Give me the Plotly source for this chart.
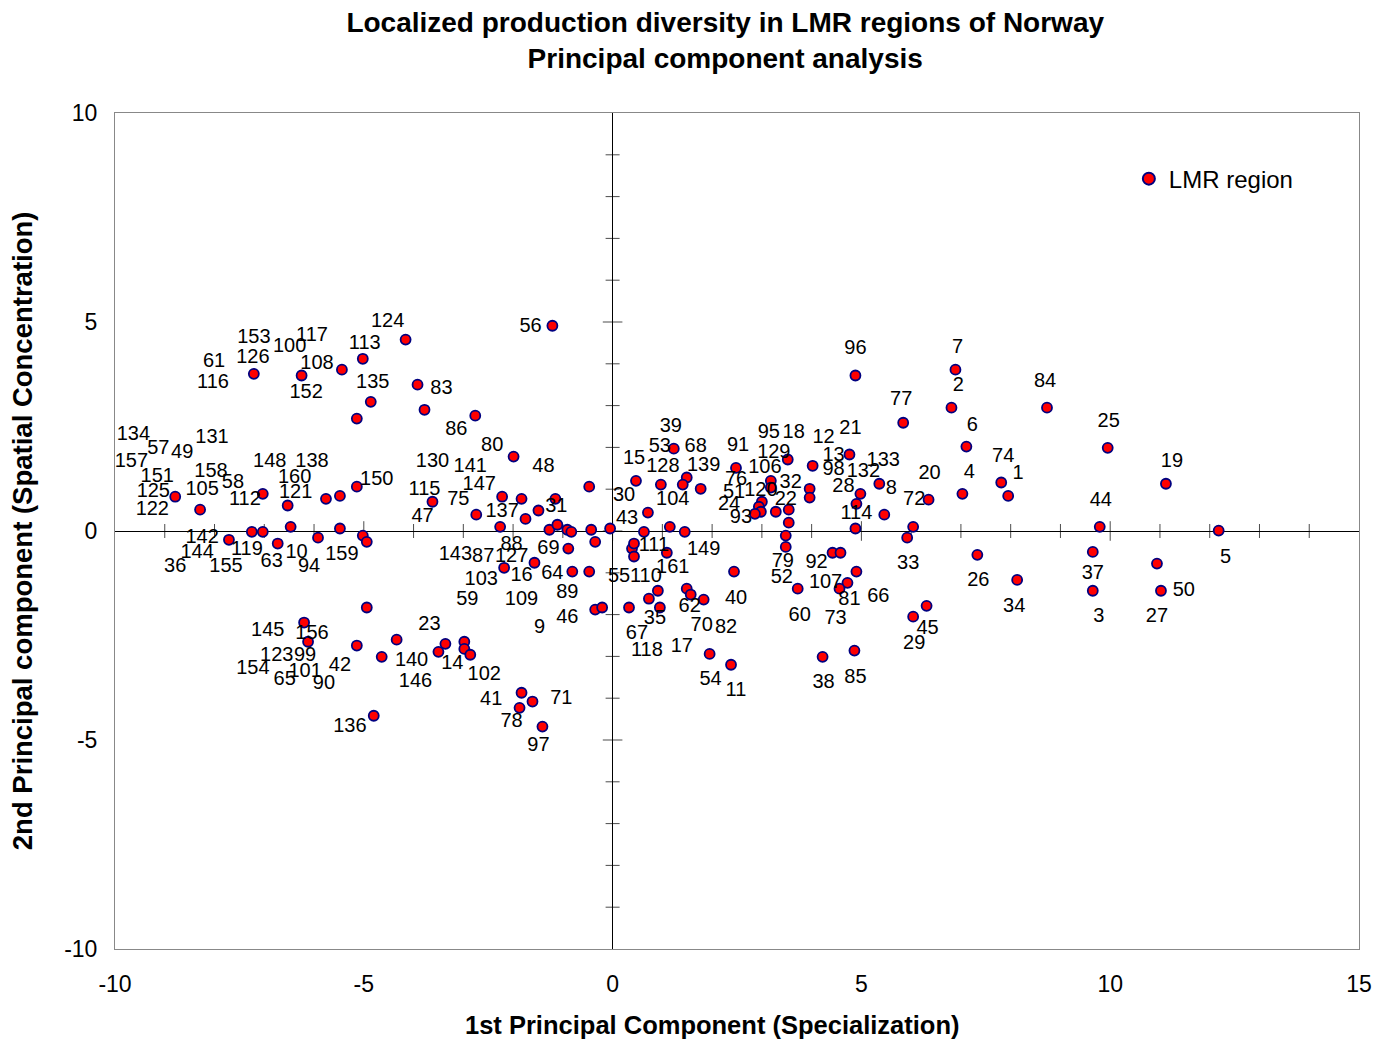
import plotly.graph_objects as go

# Principal component scores of the LMR regions (PC1 = specialization, PC2 = spatial concentration)
pc1 = [
    -7.21, -6.25, -4.16, -5.02, -5.44, -3.92, -4.86, -5.14, -3.78, -2.76, -1.99, -1.21,
    -8.79, -8.29, -7.03, -6.53, -5.76, -5.48, -5.14, -7.71, -7.25, -7.03, -6.73, -6.47,
    -5.92, -5.48, -5.02, -4.94, -4.94, -6.20, -6.12, -5.14, -4.64, -4.34, -3.50, -3.36,
    -2.98, -2.98, -2.86, -4.80, -1.83, -1.61, -1.87, -1.41, -0.47, -3.62, -2.22, -1.83,
    -1.15, -1.49, -1.75, -2.74, -2.26, -1.27, -1.11, -0.91, -0.83, -0.43, -0.05, -0.35,
    -0.89, -1.57, -2.18, -0.81, -0.47, -0.35, -0.21, 0.47, 1.23, 0.97, 1.49, 1.41,
    1.77, 0.71, 0.63, 1.15, 1.45, 2.48, 3.52, 3.18, 3.18, 3.00, 2.94, 2.98,
    2.86, 3.28, 3.54, 3.54, 3.48, 3.48, 0.39, 0.43, 0.43, 1.09, 2.44, 3.72,
    0.91, 0.73, 1.49, 1.57, 1.83, 0.95, 0.33, 1.95, 2.38, 4.02, 3.96, 3.96,
    4.88, 6.89, 6.81, 5.84, 7.11, 4.76, 5.36, 4.98, 4.90, 5.46, 6.35, 7.03,
    4.88, 6.04, 5.92, 7.81, 7.95, 8.73, 9.95, 11.12, 9.79, 12.18, 4.42, 4.58,
    4.90, 4.72, 4.56, 7.33, 6.31, 6.04, 4.86, 4.22, 8.13, 9.65, 9.65, 10.94,
    11.02,
]
pc2 = [
    3.76, 3.72, 4.58, 4.12, 3.86, 3.50, 3.09, 2.69, 2.90, 2.76, 1.78, 4.91,
    0.82, 0.51, 0.89, 0.61, 0.77, 0.84, 1.06, -0.21, -0.02, -0.02, -0.30, 0.10,
    -0.16, 0.06, -0.11, -0.26, -1.83, -2.19, -2.65, -2.74, -3.01, -2.60, -2.89, -2.70,
    -2.65, -2.82, -2.96, -4.42, -3.87, -4.08, -4.23, -4.68, 1.06, 0.70, 0.82, 0.77,
    0.77, 0.49, 0.29, 0.39, 0.10, 0.03, 0.15, 0.03, -0.02, 0.03, 0.06, -0.26,
    -0.42, -0.76, -0.88, -0.97, -0.97, -1.88, -1.83, 1.20, 1.97, 1.11, 1.28, 1.11,
    1.01, 0.44, -0.02, 0.10, -0.02, 1.51, 1.71, 1.20, 1.04, 0.70, 0.58, 0.46,
    0.41, 0.46, 0.51, 0.20, -0.11, -0.38, -0.42, -0.30, -0.61, -0.52, -0.97, -1.38,
    -1.43, -1.62, -1.38, -1.52, -1.64, -1.83, -1.83, -2.94, -3.20, 1.56, 1.01, 0.80,
    3.72, 3.86, 2.95, 2.59, 2.02, 1.83, 1.13, 0.89, 0.65, 0.39, 0.75, 0.89,
    0.06, 0.10, -0.16, 1.16, 0.84, 2.95, 1.99, 1.13, 0.10, 0.01, -0.52, -0.52,
    -0.97, -1.24, -1.38, -0.57, -1.79, -2.05, -2.86, -3.01, -1.17, -0.50, -1.43, -0.78,
    -1.43,
]

# Region number labels and where each one is placed on the chart
label_text = [
    "153", "100", "61", "126", "116", "134", "57", "49", "131", "157", "148", "158",
    "117", "124", "113", "108", "135", "83", "152", "86", "80", "138", "130", "141",
    "48", "56", "151", "125", "122", "105", "58", "112", "160", "121", "150", "142",
    "144", "36", "119", "155", "63", "10", "94", "159", "145", "156", "123", "99",
    "154", "101", "42", "65", "90", "23", "140", "14", "146", "102", "41", "78",
    "136", "71", "97", "59", "109", "89", "46", "9", "147", "115", "75", "47",
    "137", "31", "88", "143", "87", "127", "69", "103", "16", "64", "30", "43",
    "15", "55", "110", "111", "149", "161", "39", "53", "68", "128", "139", "104",
    "91", "95", "18", "129", "106", "76", "51", "120", "32", "24", "22", "93",
    "79", "52", "40", "62", "60", "35", "70", "82", "67", "118", "17", "54",
    "11", "96", "7", "2", "77", "6", "12", "21", "13", "133", "98", "132",
    "20", "4", "28", "8", "72", "114", "84", "25", "74", "1", "19", "44",
    "92", "33", "107", "26", "81", "66", "73", "45", "29", "38", "85", "34",
    "37", "3", "27", "50", "5",
]
label_pc1 = [
    -7.21, -6.49, -8.01, -7.23, -8.03, -9.63, -9.13, -8.65, -8.05, -9.67, -6.89, -8.07,
    -6.04, -4.52, -4.98, -5.94, -4.82, -3.44, -6.16, -3.14, -2.42, -6.04, -3.62, -2.86,
    -1.39, -1.65, -9.15, -9.23, -9.25, -8.25, -7.63, -7.39, -6.39, -6.37, -4.74, -8.25,
    -8.35, -8.79, -7.35, -7.77, -6.85, -6.35, -6.10, -5.44, -6.93, -6.04, -6.75, -6.18,
    -7.23, -6.18, -5.48, -6.59, -5.80, -3.68, -4.04, -3.22, -3.96, -2.58, -2.44, -2.03,
    -5.28, -1.03, -1.49, -2.92, -1.83, -0.91, -0.91, -1.47, -2.68, -3.78, -3.10, -3.82,
    -2.22, -1.13, -2.03, -3.16, -2.60, -2.03, -1.29, -2.64, -1.83, -1.21, 0.23, 0.29,
    0.43, 0.13, 0.67, 0.83, 1.83, 1.21, 1.17, 0.95, 1.67, 1.01, 1.83, 1.21,
    2.52, 3.14, 3.64, 3.24, 3.06, 2.48, 2.44, 2.98, 3.58, 2.34, 3.48, 2.58,
    3.42, 3.40, 2.48, 1.55, 3.76, 0.85, 1.79, 2.28, 0.49, 0.69, 1.39, 1.97,
    2.48, 4.88, 6.93, 6.95, 5.80, 7.23, 4.24, 4.78, 4.44, 5.44, 4.44, 5.04,
    6.37, 7.17, 4.64, 5.60, 6.06, 4.90, 8.69, 9.97, 7.85, 8.15, 11.24, 9.81,
    4.10, 5.94, 4.28, 7.35, 4.76, 5.34, 4.48, 6.33, 6.06, 4.24, 4.88, 8.07,
    9.65, 9.77, 10.94, 11.48, 12.32,
]
label_pc2 = [
    4.62, 4.41, 4.05, 4.15, 3.55, 2.30, 1.97, 1.87, 2.23, 1.66, 1.66, 1.42,
    4.67, 5.01, 4.48, 4.00, 3.55, 3.40, 3.31, 2.42, 2.04, 1.66, 1.66, 1.54,
    1.54, 4.89, 1.30, 0.94, 0.51, 0.99, 1.16, 0.75, 1.28, 0.92, 1.23, -0.16,
    -0.52, -0.85, -0.45, -0.85, -0.73, -0.52, -0.85, -0.57, -2.39, -2.46, -2.98, -2.98,
    -3.29, -3.37, -3.22, -3.56, -3.65, -2.24, -3.10, -3.17, -3.61, -3.44, -4.04, -4.56,
    -4.68, -4.01, -5.14, -1.64, -1.64, -1.48, -2.07, -2.31, 1.11, 0.99, 0.75, 0.34,
    0.46, 0.58, -0.33, -0.57, -0.61, -0.61, -0.42, -1.17, -1.07, -1.02, 0.84, 0.29,
    1.73, -1.09, -1.09, -0.35, -0.45, -0.88, 2.50, 2.02, 2.02, 1.54, 1.56, 0.75,
    2.04, 2.35, 2.35, 1.87, 1.51, 1.23, 0.92, 0.96, 1.16, 0.63, 0.75, 0.32,
    -0.73, -1.12, -1.62, -1.81, -2.03, -2.10, -2.27, -2.31, -2.46, -2.86, -2.77, -3.56,
    -3.82, 4.36, 4.39, 3.48, 3.14, 2.52, 2.23, 2.45, 1.80, 1.68, 1.47, 1.42,
    1.37, 1.39, 1.06, 1.01, 0.75, 0.41, 3.57, 2.61, 1.78, 1.37, 1.66, 0.72,
    -0.76, -0.78, -1.24, -1.19, -1.64, -1.57, -2.10, -2.34, -2.70, -3.63, -3.51, -1.81,
    -1.02, -2.05, -2.05, -1.43, -0.64,
]

x_range = [-10, 15]
y_range = [-10, 10]
x_ticks = [-10, -5, 0, 5, 10, 15]
y_ticks = [-10, -5, 0, 5, 10]

FONT = "Liberation Sans, Arial, sans-serif"

fig = go.Figure()

# Crossing tick marks drawn along the two zero lines (one per unit)
x_units = list(range(x_range[0] + 1, x_range[1]))
y_units = list(range(y_range[0] + 1, y_range[1]))
fig.add_trace(go.Scatter(
    x=x_units, y=[0] * len(x_units), mode="markers", hoverinfo="skip", showlegend=False,
    marker=dict(symbol="line-ns", size=[14 if v % 5 == 0 else 10 for v in x_units],
                line=dict(color="black", width=1)),
))
fig.add_trace(go.Scatter(
    x=[0] * len(y_units), y=y_units, mode="markers", hoverinfo="skip", showlegend=False,
    marker=dict(symbol="line-ew", size=[14 if v % 5 == 0 else 10 for v in y_units],
                line=dict(color="black", width=1)),
))

# Regions
fig.add_trace(go.Scatter(
    x=pc1, y=pc2, mode="markers", name="LMR region",
    marker=dict(color="#FF0000", size=10, line=dict(color="#000080", width=1.8)),
))

# Region number labels
fig.add_trace(go.Scatter(
    x=label_pc1, y=label_pc2, mode="text", text=label_text, showlegend=False,
    hoverinfo="skip", textposition="middle center",
    textfont=dict(family=FONT, size=20, color="black"),
))

axis_common = dict(
    showgrid=False, zeroline=True, zerolinecolor="black", zerolinewidth=1,
    showline=True, mirror=True, linecolor="#888888", linewidth=1,
    ticks="", tickfont=dict(family=FONT, size=23, color="black"),
)

fig.update_layout(
    width=1384, height=1044,
    margin=dict(l=115, r=22, t=113, b=95),
    paper_bgcolor="white", plot_bgcolor="white",
    font=dict(family=FONT, color="black"),
    title=dict(
        text="<b>Localized production diversity in LMR regions of Norway</b><br>"
             "<b>Principal component analysis</b>",
        x=0.524, xref="container", xanchor="center",
        y=1 - 32 / 1044, yref="container", yanchor="middle",
        font=dict(family=FONT, size=28, color="black"),
    ),
    xaxis=dict(range=x_range, tickvals=x_ticks, ticktext=[str(v) for v in x_ticks],
               ticklabelstandoff=14, **axis_common),
    yaxis=dict(range=y_range, tickvals=y_ticks, ticktext=[str(v) for v in y_ticks],
               ticklabelstandoff=12, **axis_common),
    legend=dict(
        x=0.815, y=0.921, xanchor="left", yanchor="middle",
        bgcolor="rgba(0,0,0,0)", font=dict(family=FONT, size=24, color="black"),
        itemsizing="constant",
    ),
    showlegend=True,
    annotations=[
        dict(text="<b>1st Principal Component (Specialization)</b>",
             x=0.480, y=-0.0909, xref="paper", yref="paper",
             xanchor="center", yanchor="middle",
             showarrow=False, font=dict(family=FONT, size=25.5, color="black")),
        dict(text="<b>2nd Principal component (Spatial Concentration)</b>",
             x=-0.0746, y=0.5, xref="paper", yref="paper", textangle=-90,
             xanchor="center", yanchor="middle",
             showarrow=False, font=dict(family=FONT, size=27.5, color="black")),
    ],
)

fig.write_html("out.html")
